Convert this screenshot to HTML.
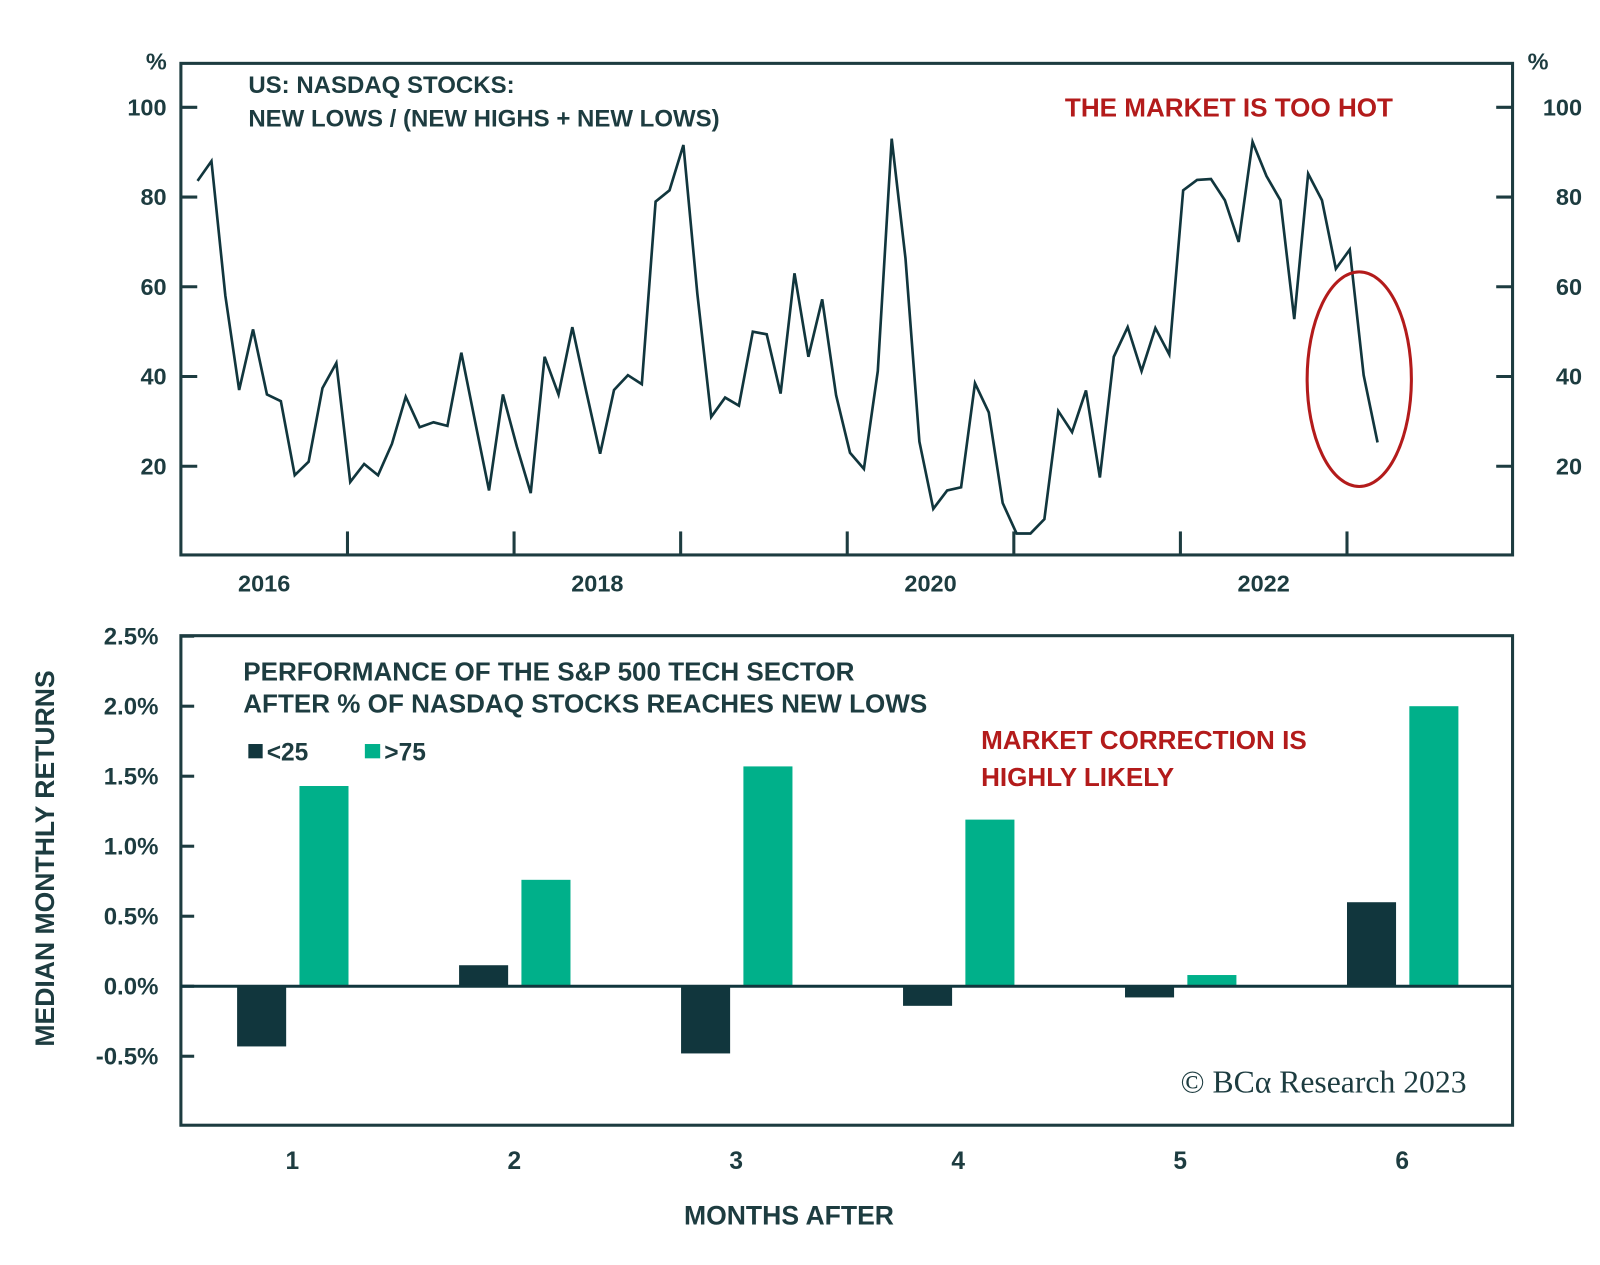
<!DOCTYPE html>
<html><head><meta charset="utf-8"><style>
body{margin:0;background:#fff}
svg text{font-family:"Liberation Sans",sans-serif;font-weight:bold}
</style></head><body>
<svg width="1600" height="1260" viewBox="0 0 1600 1260" xmlns="http://www.w3.org/2000/svg">
<g transform="scale(1.022)">
<g id="top"></g>
<g id="bot"></g>
</g>
</svg>
<script>
const lineValues=[83.6,88,58,37,50.5,36,34.5,18,21,37.4,43,16.5,20.5,18,25,35.5,28.7,29.8,29,45.3,29.8,14.6,36,24.4,14,44.4,36,51,36.7,22.8,37,40.3,
38.3,79,81.5,91.6,58.5,31,35.3,33.5,50,49.4,36.2,63,44.4,57.2,35.8,23,19.4,41.2,93,66.3,25.5,10.5,14.6,15.3,38.5,32,11.8,5,5,8.2,
32.3,27.6,36.9,17.5,44.4,51,41.2,50.8,44.9,81.5,83.8,84,79.3,70,92.3,84.7,79.3,52.8,85.2,79.3,64,68.3,40.3,25.3];
const lineStart=2016.1;
const lineYTicks=[20,40,60,80,100];
const lineYearLabels=[2016,2018,2020,2022];
const lineYearTicks=[2017,2018,2019,2020,2021,2022,2023];
const barCategories=["1","2","3","4","5","6"];
const seriesLow=[-0.43,0.15,-0.48,-0.14,-0.08,0.6];
const seriesHigh=[1.43,0.76,1.57,1.19,0.08,2.0];
const barTicks=[-0.5,0,0.5,1.0,1.5,2.0,2.5];

const NS="http://www.w3.org/2000/svg";
const DARK="#11363d",GREEN="#00b08a",RED="#b31b1b",TXT="#1d3c40";
function mk(p,tag,attrs,txt){const e=document.createElementNS(NS,tag);for(const k in attrs)e.setAttribute(k,attrs[k]);if(txt!==undefined)e.textContent=txt;p.appendChild(e);return e;}

// top chart
const T=document.getElementById('top');
const tx=y=>177+(y-2016)*163;
const ty=v=>544-v*4.39;
let e=mk(T,'rect',{x:177,y:62,width:1303,height:481,fill:'none',stroke:TXT,'stroke-width':3});

lineYTicks.forEach(v=>{
  let a=mk(T,'line',{x1:177,x2:193,y1:ty(v),y2:ty(v),stroke:TXT,'stroke-width':3});
  
  let b=mk(T,'line',{x1:1464,x2:1480,y1:ty(v),y2:ty(v),stroke:TXT,'stroke-width':3});
  
  let l=mk(T,'text',{x:163,y:ty(v)+8,'text-anchor':'end','font-size':23,fill:TXT},v);
  
  let r=mk(T,'text',{x:1548,y:ty(v)+8,'text-anchor':'end','font-size':23,fill:TXT},v);
  
});
e=mk(T,'text',{x:153,y:68,'text-anchor':'middle','font-size':23,fill:TXT},'%');
e=mk(T,'text',{x:1505,y:68,'text-anchor':'middle','font-size':23,fill:TXT},'%');
lineYearTicks.forEach(y=>{let t=mk(T,'line',{x1:tx(y),x2:tx(y),y1:520,y2:543,stroke:TXT,'stroke-width':3});
  });
lineYearLabels.forEach(y=>{let t=mk(T,'text',{x:tx(y+0.5),y:579,'text-anchor':'middle','font-size':23,fill:TXT},y);
  });
const pts=lineValues.map((v,i)=>tx(lineStart+i/12).toFixed(1)+','+ty(v).toFixed(1)).join(' ');
e=mk(T,'polyline',{points:pts,fill:'none',stroke:DARK,'stroke-width':2.6,'stroke-linejoin':'miter'});

e=mk(T,'text',{x:243,y:91,'font-size':23.5,fill:TXT},'US: NASDAQ STOCKS:');
e=mk(T,'text',{x:243,y:124,'font-size':23.5,fill:TXT},'NEW LOWS / (NEW HIGHS + NEW LOWS)');
e=mk(T,'text',{x:1042,y:114,'font-size':25.5,fill:RED},'THE MARKET IS TOO HOT');
e=mk(T,'ellipse',{cx:1330,cy:371,rx:51,ry:105,fill:'none',stroke:RED,'stroke-width':3});

// bottom chart
const B=document.getElementById('bot');
const by=v=>965-v*137;
const bx=i=>286+i*217.2;
e=mk(B,'rect',{x:177,y:622,width:1303,height:479,fill:'none',stroke:TXT,'stroke-width':3});

barTicks.forEach(v=>{
  let t=mk(B,'line',{x1:177,x2:190,y1:by(v),y2:by(v),stroke:TXT,'stroke-width':3});
  
  let l=mk(B,'text',{x:155,y:by(v)+8,'text-anchor':'end','font-size':23.5,fill:TXT},v.toFixed(1)+'%');
  
});
barCategories.forEach((c,i)=>{
  let d=seriesLow[i];
  let r1=mk(B,'rect',{x:bx(i)-54,y:Math.min(by(d),by(0)),width:48,height:Math.abs(by(d)-by(0)),fill:DARK});
  
  let g=seriesHigh[i];
  let r2=mk(B,'rect',{x:bx(i)+7,y:Math.min(by(g),by(0)),width:48,height:Math.abs(by(g)-by(0)),fill:GREEN});
  
  let l=mk(B,'text',{x:bx(i),y:1144,'text-anchor':'middle','font-size':24,fill:TXT},c);
  
});
e=mk(B,'line',{x1:177,x2:1480,y1:by(0),y2:by(0),stroke:DARK,'stroke-width':3});
e=mk(B,'text',{x:238,y:666,'font-size':25.5,fill:TXT},'PERFORMANCE OF THE S&P 500 TECH SECTOR');
e=mk(B,'text',{x:238,y:697,'font-size':25.5,fill:TXT},'AFTER % OF NASDAQ STOCKS REACHES NEW LOWS');
e=mk(B,'rect',{x:243,y:728,width:14,height:14,fill:DARK});
e=mk(B,'text',{x:261,y:744,'font-size':24,fill:TXT},'<25');
e=mk(B,'rect',{x:357,y:728,width:15,height:14,fill:GREEN});
e=mk(B,'text',{x:376,y:744,'font-size':24,fill:TXT},'>75');
e=mk(B,'text',{x:960,y:733,'font-size':25.5,fill:RED},'MARKET CORRECTION IS');
e=mk(B,'text',{x:960,y:769,'font-size':25.5,fill:RED},'HIGHLY LIKELY');
e=mk(B,'text',{x:772,y:1198,'text-anchor':'middle','font-size':26,fill:TXT},'MONTHS AFTER');
e=mk(B,'text',{x:0,y:0,'text-anchor':'middle','font-size':26,fill:TXT,transform:'translate(53,840) rotate(-90)'},'MEDIAN MONTHLY RETURNS');
e=mk(B,'text',{x:1435,y:1069,'text-anchor':'end','font-size':31,fill:TXT,style:'font-family:"Liberation Serif",serif;font-weight:normal'},'© BCα Research 2023');
</script>
</body></html>
